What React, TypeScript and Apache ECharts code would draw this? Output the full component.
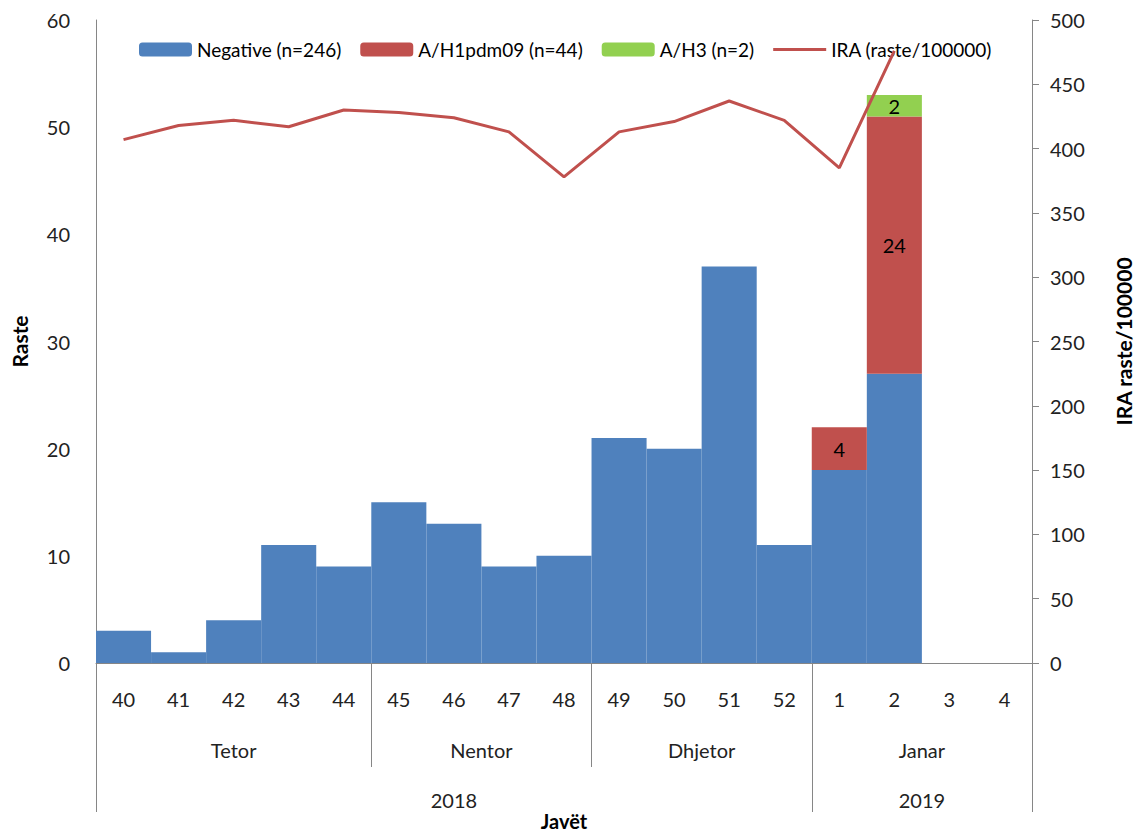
import React, { useEffect, useRef } from "react";
import * as echarts from "echarts";

const weeks = ["40", "41", "42", "43", "44", "45", "46", "47", "48", "49", "50", "51", "52", "1", "2", "3", "4"];
const negative = [3, 1, 4, 11, 9, 15, 13, 9, 10, 21, 20, 37, 11, 18, 27, null, null];
const h1pdm09 = [null, null, null, null, null, null, null, null, null, null, null, null, null, 4, 24, null, null];
const h3 = [null, null, null, null, null, null, null, null, null, null, null, null, null, null, 2, null, null];
const ira = [407, 418, 422, 417, 430, 428, 424, 413, 378, 413, 421, 437, 422, 385, 476, null, null];

const monthNames = ["Tetor", "Nentor", "Dhjetor", "Janar"];
const monthBounds = [0, 5, 9, 13, 17];
const yearNames = ["2018", "2019"];
const yearBounds = [0, 13, 17];

const FONT = "Lato, 'Open Sans', sans-serif";

export default function App() {
  const ref = useRef<HTMLDivElement>(null);
  useEffect(() => {
    const chart = echarts.init(ref.current!, null, { renderer: "svg" });
    const monthCenters = monthNames.map((_, i) => (monthBounds[i] + monthBounds[i + 1]) / 2);
    const yearCenters = yearNames.map((_, i) => (yearBounds[i] + yearBounds[i + 1]) / 2);
    const axisGray = "#868686";
    chart.setOption({
      animation: false,
      textStyle: { fontFamily: FONT },
      grid: { left: 96, right: 104, top: 20, bottom: 169, containLabel: false, outerBoundsMode: "none" },
      legend: {
        left: 134,
        top: 35,
        itemWidth: 53,
        itemHeight: 14,
        itemGap: 19,
        textStyle: { fontSize: 19, color: "#000", fontFamily: FONT },
        data: [
          { name: "Negative (n=246)" },
          { name: "A/H1pdm09 (n=44)" },
          { name: "A/H3 (n=2)" },
          { name: "IRA (raste/100000)", icon: "path://M0,0H53V3H0Z", itemStyle: { color: "#C0504D" } },
        ],
      },
      xAxis: [
        {
          type: "category",
          data: weeks,
          gridIndex: 0,
          name: "Javët",
          nameLocation: "middle",
          nameGap: 148,
          nameTextStyle: { fontSize: 20, fontWeight: "bold", color: "#000", verticalAlign: "top" },
          axisLine: { show: true, onZero: false, lineStyle: { color: axisGray } },
          axisTick: { show: false },
          axisLabel: { fontSize: 20, color: "#222", margin: 26, interval: 0 },
        },
        {
          type: "value",
          gridIndex: 0,
          min: 0,
          max: 17,
          position: "bottom",
          axisLine: { show: false, onZero: false },
          splitLine: { show: false },
          axisTick: { show: true, length: 104, customValues: [5, 9], lineStyle: { color: axisGray } },
          axisLabel: {
            fontSize: 20,
            color: "#222",
            margin: 77,
            customValues: monthCenters,
            formatter: (v: number) => monthNames[monthCenters.indexOf(v)] ?? "",
          },
        },
        {
          type: "value",
          gridIndex: 0,
          min: 0,
          max: 17,
          position: "bottom",
          axisLine: { show: false, onZero: false },
          splitLine: { show: false },
          axisTick: { show: true, length: 149, customValues: yearBounds, lineStyle: { color: axisGray } },
          axisLabel: {
            fontSize: 20,
            color: "#222",
            margin: 127,
            customValues: yearCenters,
            formatter: (v: number) => yearNames[yearCenters.indexOf(v)] ?? "",
          },
        },
      ],
      yAxis: [
        {
          type: "value",
          min: 0,
          max: 60,
          interval: 10,
          position: "left",
          name: "Raste",
          nameLocation: "middle",
          nameGap: 66,
          nameTextStyle: { fontSize: 21, fontWeight: "bold", color: "#000" },
          axisLine: { show: true, onZero: false, lineStyle: { color: axisGray } },
          axisTick: { show: false },
          splitLine: { show: false },
          axisLabel: { fontSize: 20, color: "#222", margin: 26 },
        },
        {
          type: "value",
          min: 0,
          max: 500,
          interval: 50,
          position: "right",
          name: "IRA raste/100000",
          nameLocation: "middle",
          nameGap: 81,
          nameRotate: 90,
          nameTextStyle: { fontSize: 21, fontWeight: "bold", color: "#000" },
          axisLine: { show: true, onZero: false, lineStyle: { color: axisGray } },
          axisTick: { show: true, inside: false, length: 7, lineStyle: { color: axisGray } },
          splitLine: { show: false },
          axisLabel: { fontSize: 20, color: "#222", margin: 18 },
        },
      ],
      series: [
        {
          name: "Negative (n=246)",
          type: "bar",
          stack: "s",
          data: negative,
          barCategoryGap: "0%",
          itemStyle: { color: "#4F81BD" },
        },
        {
          name: "A/H1pdm09 (n=44)",
          type: "bar",
          stack: "s",
          data: h1pdm09,
          itemStyle: { color: "#C0504D" },
          label: { show: true, position: "inside", fontSize: 20, color: "#000", fontFamily: FONT },
        },
        {
          name: "A/H3 (n=2)",
          type: "bar",
          stack: "s",
          data: h3,
          itemStyle: { color: "#92D050" },
          label: { show: true, position: "inside", fontSize: 20, color: "#000", fontFamily: FONT },
        },
        {
          name: "IRA (raste/100000)",
          type: "line",
          yAxisIndex: 1,
          data: ira,
          symbol: "none",
          lineStyle: { color: "#C0504D", width: 3 },
          itemStyle: { color: "#C0504D" },
          z: 5,
        },
      ],
    });
    return () => chart.dispose();
  }, []);
  return <div ref={ref} style={{ width: 1136, height: 832, position: "absolute", left: 0, top: 0, background: "#fff" }} />;
}
